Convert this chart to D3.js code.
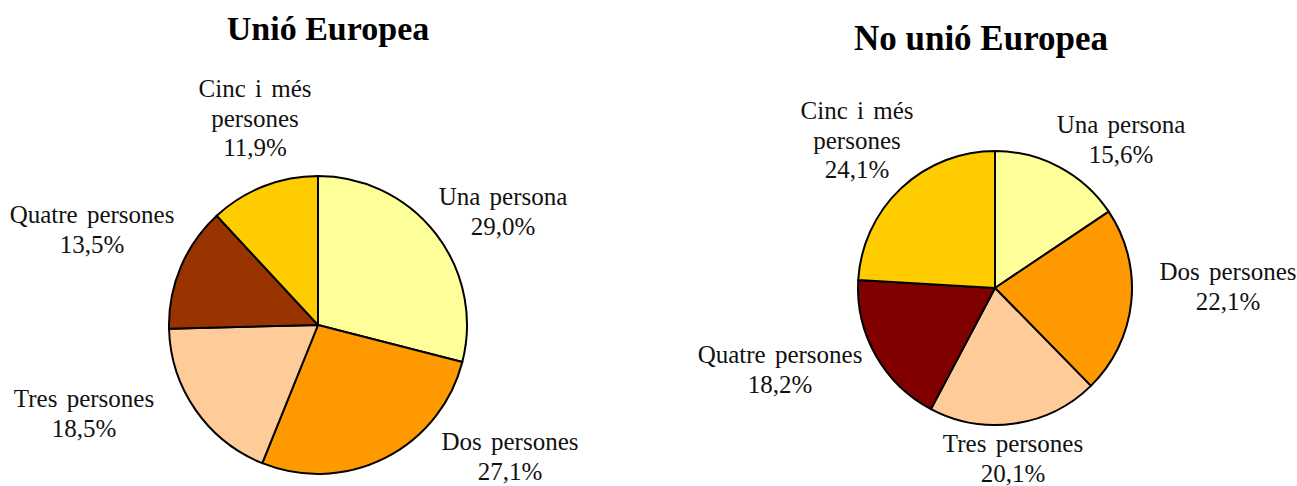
<!DOCTYPE html>
<html>
<head>
<meta charset="utf-8">
<script src="https://cdn.jsdelivr.net/npm/d3@7"></script>
<style>
  body { margin: 0; background: #fff; }
  svg { display: block; }
</style>
</head>
<body>
<svg id="chart" width="1297" height="486"></svg>
<script>
// categories (in clockwise order from 12 o'clock)
const categories = ["Una persona", "Dos persones", "Tres persones", "Quatre persones", "Cinc i més persones"]
// label text split in lines, same order
const labelLines = [["Una persona"], ["Dos persones"], ["Tres persones"], ["Quatre persones"], ["Cinc i més", "persones"]]

const valuesUE = [29.0, 27.1, 18.5, 13.5, 11.9]
const valuesNoUE = [15.6, 22.1, 20.1, 18.2, 24.1]

const titles = ["Unió Europea", "No unió Europea"]

const coloursUE = ["#ffff99", "#ff9900", "#ffcc99", "#993300", "#ffcc00"]
const coloursNoUE = ["#ffff99", "#ff9900", "#ffcc99", "#800000", "#ffcc00"]

// layout of each pie: centre, radius, title position, label offsets from centre
const layout = [
  { cx: 318, cy: 325, r: 149, tx: 328, ty: 40, ts: 34,
    lab: [[185, -120], [192, 125], [-234, 82], [-226, -102], [-63, -228]] },
  { cx: 995, cy: 288, r: 137, tx: 981, ty: 50, ts: 35,
    lab: [[126, -155], [233, -8], [18, 164], [-215, 75], [-138, -169]] }
]

const fmt = v => d3.format(".1f")(v).replace(".", ",") + "%"

const svg = d3.select("#chart")
const font = "'Liberation Serif', 'Times New Roman', serif"

function drawPie(values, colours, title, L) {
  const g = svg.append("g")

  const data = values.map((v, i) => ({ name: categories[i], value: v, i: i }))

  const pie = d3.pie().sort(null).value(d => d.value)
  const arc = d3.arc().innerRadius(0).outerRadius(L.r)

  const slices = g.append("g")
    .attr("transform", `translate(${L.cx},${L.cy})`)

  slices.selectAll("path")
    .data(pie(data))
    .enter().append("path")
    .attr("d", arc)
    .attr("fill", d => colours[d.data.i])
    .attr("stroke", "#000")
    .attr("stroke-width", 2)
    .attr("stroke-linejoin", "round")

  g.append("text")
    .attr("x", L.tx)
    .attr("y", L.ty)
    .attr("text-anchor", "middle")
    .style("font-family", font)
    .style("font-weight", "bold")
    .style("font-size", L.ts + "px")
    .text(title)

  // labels
  const labels = g.append("g").attr("transform", `translate(${L.cx},${L.cy})`)
  data.forEach((d, i) => {
    const lines = labelLines[i].concat([fmt(d.value)])
    const t = labels.append("text")
      .attr("text-anchor", "middle")
      .style("font-family", font)
      .style("font-size", "25px")
      .style("word-spacing", "3px")
      .attr("fill", "#111")
    lines.forEach((s, k) => {
      t.append("tspan")
        .attr("x", L.lab[i][0])
        .attr("y", L.lab[i][1] + k * 29.5)
        .text(s)
    })
  })
}

drawPie(valuesUE, coloursUE, titles[0], layout[0])
drawPie(valuesNoUE, coloursNoUE, titles[1], layout[1])
</script>
</body>
</html>
